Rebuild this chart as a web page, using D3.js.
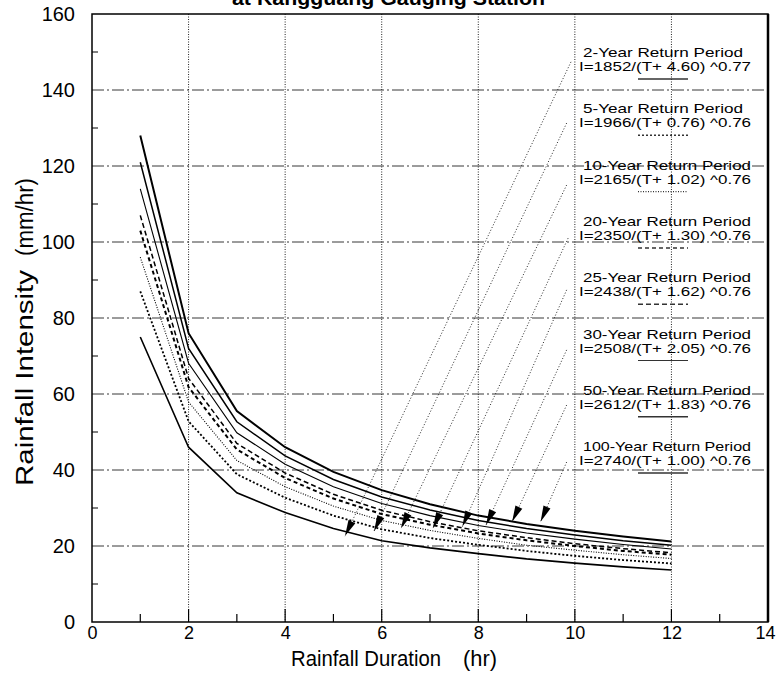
<!DOCTYPE html>
<html>
<head>
<meta charset="utf-8">
<script src="https://cdn.jsdelivr.net/npm/d3@7/dist/d3.min.js"></script>
<style>
  body { margin: 0; background: #fff; }
  text { font-family: "Liberation Sans", Arial, Helvetica, sans-serif; fill: #000; }
</style>
</head>
<body>
<div id="chart"></div>
<script>
// rainfall duration (hr) and intensity (mm/hr)
const durations = [1, 2, 3, 4, 5, 6, 7, 8, 9, 10, 11, 12];
const rp2   = [75, 46, 34, 28.8, 24.6, 21.4, 19.5, 18, 16.6, 15.5, 14.5, 13.7];
const rp5   = [87, 52.8, 38.9, 32.7, 28, 24.4, 22.1, 20.3, 18.7, 17.4, 16.3, 15.4];
const rp10  = [96, 57.9, 42.5, 35.6, 30.5, 26.7, 24.1, 22, 20.2, 18.9, 17.7, 16.7];
const rp20  = [103, 61.8, 45.4, 37.9, 32.5, 28.4, 25.6, 23.3, 21.5, 20, 18.7, 17.7];
const rp25  = [107, 64.1, 47, 39.2, 33.6, 29.4, 26.4, 24, 22.2, 20.6, 19.3, 18.2];
const rp30  = [114, 68.1, 49.8, 41.5, 35.6, 31.2, 28, 25.4, 23.4, 21.8, 20.4, 19.2];
const rp50  = [121, 72, 52.7, 43.7, 37.5, 32.9, 29.5, 26.7, 24.6, 22.9, 21.4, 20.2];
const rp100 = [128, 76, 55.5, 46, 39.5, 34.7, 31, 28, 25.8, 24, 22.5, 21.2];

const periodLabels = ["2-Year Return Period", "5-Year Return Period", "10-Year Return Period",
  "20-Year Return Period", "25-Year Return Period", "30-Year Return Period",
  "50-Year Return Period", "100-Year Return Period"];
const formulaLabels = ["I=1852/(T+ 4.60) ^0.77", "I=1966/(T+ 0.76) ^0.76", "I=2165/(T+ 1.02) ^0.76",
  "I=2350/(T+ 1.30) ^0.76", "I=2438/(T+ 1.62) ^0.76", "I=2508/(T+ 2.05) ^0.76",
  "I=2612/(T+ 1.83) ^0.76", "I=2740/(T+ 1.00) ^0.76"];

// leader arrows: tip on the curve, tail at the formula label (hr, mm/hr)
const arrowTipHour  = [5.24, 5.84, 6.40, 7.06, 7.67, 8.16, 8.70, 9.29];
const arrowTipValue = [22.6, 23.9, 24.7, 24.7, 25.1, 25.5, 26.4, 26.4];
const arrowTailHour  = [9.92, 9.83, 9.83, 9.86, 9.83, 9.83, 9.83, 9.83];
const arrowTailValue = [147.4, 131.3, 115, 101, 87.4, 71.6, 57.1, 42.1];

const xTicks = [0, 2, 4, 6, 8, 10, 12, 14];
const yTicks = [0, 20, 40, 60, 80, 100, 120, 140, 160];

const series = [rp2, rp5, rp10, rp20, rp25, rp30, rp50, rp100];
// line look per return period (same order as the labels)
const styles = [
  { w: 1.6, dash: null },
  { w: 1.8, dash: "2,2" },
  { w: 1.1, dash: "1,1.5" },
  { w: 2.0, dash: "4,3" },
  { w: 1.5, dash: "5,3" },
  { w: 1.1, dash: null },
  { w: 1.5, dash: null },
  { w: 2.0, dash: null }
];

const margin = { top: 14, right: 9, bottom: 52, left: 92 };
const width = 777 - margin.left - margin.right;
const height = 674 - margin.top - margin.bottom;

const svg = d3.select("#chart").append("svg")
    .attr("width", 777)
    .attr("height", 674);

// title, cut off at the top of the scan
svg.append("text")
    .attr("x", 232)
    .attr("y", 5)
    .attr("font-weight", "bold")
    .attr("textLength", 313)
    .attr("lengthAdjust", "spacingAndGlyphs")
    .style("font-size", "21px")
    .text("at Kangguang Gauging Station");

const g = svg.append("g")
    .attr("transform", `translate(${margin.left},${margin.top})`);

const x = d3.scaleLinear().domain([0, 14]).range([0, width]);
const y = d3.scaleLinear().domain([0, 160]).range([height, 0]);

// grid
g.append("g").selectAll("line")
    .data(d3.range(20, 160, 20))
    .enter().append("line")
    .attr("x1", 0).attr("x2", width)
    .attr("y1", d => y(d)).attr("y2", d => y(d))
    .attr("stroke", "#222")
    .attr("stroke-width", 0.9)
    .attr("stroke-dasharray", "12,3,2,3");

g.append("g").selectAll("line")
    .data(d3.range(2, 14, 2))
    .enter().append("line")
    .attr("x1", d => x(d)).attr("x2", d => x(d))
    .attr("y1", 0).attr("y2", height)
    .attr("stroke", "#222")
    .attr("stroke-width", 1)
    .attr("stroke-dasharray", "1,1.5");

// axes
g.append("g")
    .call(d3.axisLeft(y).tickValues(yTicks).tickSize(0).tickPadding(17))
    .call(a => a.select(".domain").remove())
    .selectAll("text")
    .style("font-size", "20px")
    .attr("font-family", "'Liberation Sans', Arial, sans-serif");

g.append("g")
    .attr("transform", `translate(0,${height})`)
    .call(d3.axisBottom(x).tickValues(xTicks).tickSize(0).tickPadding(4))
    .call(a => a.select(".domain").remove())
    .selectAll("text")
    .style("font-size", "18px")
    .attr("font-family", "'Liberation Sans', Arial, sans-serif")
    .attr("dx", d => d === 14 ? -3 : 0);

// inner minor ticks
g.append("g").selectAll("line")
    .data(d3.range(10, 160, 20))
    .enter().append("line")
    .attr("x1", 0).attr("x2", 6)
    .attr("y1", d => y(d)).attr("y2", d => y(d))
    .attr("stroke", "#000").attr("stroke-width", 1);

g.append("g").selectAll("line")
    .data(d3.range(1, 14))
    .enter().append("line")
    .attr("x1", d => x(d)).attr("x2", d => x(d))
    .attr("y1", height)
    .attr("y2", d => height - (d % 2 === 0 ? 13 : 8))
    .attr("stroke", "#000").attr("stroke-width", 1.2);

// frame
g.append("rect")
    .attr("width", width).attr("height", height)
    .attr("fill", "none")
    .attr("stroke", "#000")
    .attr("stroke-width", 1.5);
g.append("line")
    .attr("x1", width).attr("x2", width)
    .attr("y1", 0).attr("y2", height)
    .attr("stroke", "#000").attr("stroke-width", 2.5);

// curves
const line = d3.line()
    .x((d, i) => x(durations[i]))
    .y(d => y(d));

g.append("g").selectAll("path")
    .data(series)
    .enter().append("path")
    .attr("d", line)
    .attr("fill", "none")
    .attr("stroke", "#000")
    .attr("stroke-width", (d, i) => styles[i].w)
    .attr("stroke-dasharray", (d, i) => styles[i].dash);

// leader lines and arrow heads
const leaders = g.append("g");
arrowTipHour.forEach(function(h, i) {
  const tx = x(h), ty = y(arrowTipValue[i]);
  const sx = x(arrowTailHour[i]), sy = y(arrowTailValue[i]);
  leaders.append("line")
      .attr("x1", sx).attr("y1", sy)
      .attr("x2", tx).attr("y2", ty)
      .attr("stroke", "#111")
      .attr("stroke-width", 0.9)
      .attr("stroke-dasharray", "1,2");
  const ang = Math.atan2(sy - ty, sx - tx);
  const len = 16, half = 3.8;
  const bx = tx + len * Math.cos(ang), by = ty + len * Math.sin(ang);
  const px = -Math.sin(ang) * half, py = Math.cos(ang) * half;
  leaders.append("path")
      .attr("d", `M${tx},${ty}L${bx + px},${by + py}L${bx - px},${by - py}Z`)
      .attr("fill", "#000");
});

// labels on the right
const labelTop = 57 - margin.top;
const labelStep = 56.3;
const legend = g.append("g");
periodLabels.forEach(function(t, i) {
  const yy = labelTop + i * labelStep;
  legend.append("text")
      .attr("x", 583 - margin.left)
      .attr("y", yy)
      .attr("textLength", i === 0 || i === 1 ? 160 : 168)
      .attr("lengthAdjust", "spacingAndGlyphs")
      .style("font-size", "13px")
      .text(t);
  legend.append("text")
      .attr("x", 579 - margin.left)
      .attr("y", yy + 14)
      .attr("textLength", 172)
      .attr("lengthAdjust", "spacingAndGlyphs")
      .style("font-size", "13px")
      .text(formulaLabels[i]);
  legend.append("line")
      .attr("x1", 638 - margin.left).attr("x2", 688 - margin.left)
      .attr("y1", yy + 22).attr("y2", yy + 22)
      .attr("stroke", "#333")
      .attr("stroke-width", Math.min(styles[i].w, 1.5))
      .attr("stroke-dasharray", styles[i].dash);
});

// axis titles
svg.append("text")
    .attr("x", 291)
    .attr("y", 666)
    .attr("textLength", 150)
    .attr("lengthAdjust", "spacingAndGlyphs")
    .style("font-size", "22px")
    .text("Rainfall Duration");
svg.append("text")
    .attr("x", 463)
    .attr("y", 666)
    .attr("textLength", 34)
    .attr("lengthAdjust", "spacingAndGlyphs")
    .style("font-size", "22px")
    .text("(hr)");

svg.append("text")
    .attr("transform", "translate(33,486) rotate(-90)")
    .attr("textLength", 216)
    .attr("lengthAdjust", "spacingAndGlyphs")
    .style("font-size", "23px")
    .text("Rainfall Intensity");
svg.append("text")
    .attr("transform", "translate(33,256) rotate(-90)")
    .attr("textLength", 78)
    .attr("lengthAdjust", "spacingAndGlyphs")
    .style("font-size", "23px")
    .text("(mm/hr)");
</script>
</body>
</html>
